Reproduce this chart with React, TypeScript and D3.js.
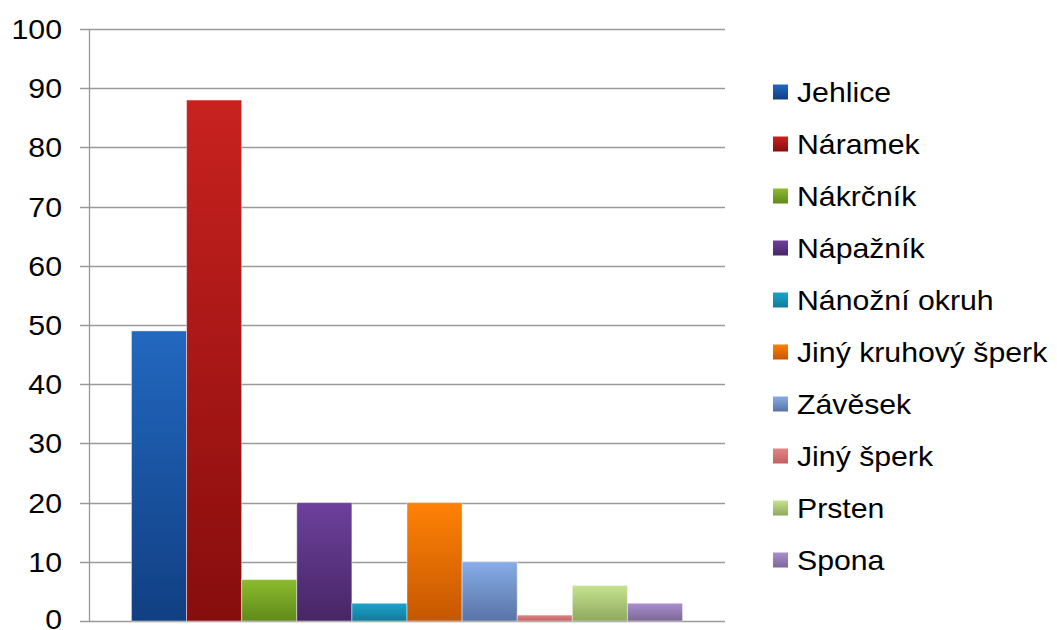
import React from "react";
import * as d3 from "d3";

const categories = [
  "Jehlice",
  "Náramek",
  "Nákrčník",
  "Nápažník",
  "Nánožní okruh",
  "Jiný kruhový šperk",
  "Závěsek",
  "Jiný šperk",
  "Prsten",
  "Spona",
];
const values = [49, 88, 7, 20, 3, 20, 10, 1, 6, 3];
const topColors = ["#2268c0", "#c8221f", "#8dbb2d", "#6d409c", "#1ba3cb", "#ff8206", "#88ace8", "#e38585", "#c6e48f", "#ab8fce"];
const bottomColors = ["#113f82", "#870d0d", "#5f8a1b", "#472665", "#107c98", "#c65700", "#5874a5", "#c26060", "#8ea85e", "#7c6897"];
const yTicks = [0, 10, 20, 30, 40, 50, 60, 70, 80, 90, 100];

const W = 1057;
const H = 630;
const plotLeft = 89;
const plotRight = 725;
const plotTop = 29;
const plotBottom = 621;
const SX = 1.08;
const FONT = "'Liberation Sans', Arial, sans-serif";

export default function App() {
  const x = d3
    .scaleBand<string>()
    .domain(categories)
    .range([plotLeft, plotRight])
    .paddingInner(0)
    .paddingOuter(0.77);
  const y = d3.scaleLinear().domain([0, 100]).range([plotBottom, plotTop]);

  return (
    <svg
      width={W}
      height={H}
      style={{ position: "absolute", left: 0, top: 0, background: "#fff" }}
      fontFamily={FONT}
    >
      <defs>
        {categories.map((c, i) => (
          <linearGradient key={c} id={`g${i}`} x1="0" y1="0" x2="0" y2="1">
            <stop offset="0%" stopColor={topColors[i]} />
            <stop offset="100%" stopColor={bottomColors[i]} />
          </linearGradient>
        ))}
      </defs>
      {/* gridlines */}
      {yTicks.map((t) => (
        <line
          key={`g${t}`}
          x1={plotLeft - 9}
          x2={plotRight}
          y1={Math.round(y(t)) + 0.5}
          y2={Math.round(y(t)) + 0.5}
          stroke="#9a9a9a"
          strokeWidth={1.3}
        />
      ))}
      {/* y axis line */}
      <line x1={plotLeft + 0.5} x2={plotLeft + 0.5} y1={plotTop} y2={plotBottom + 1} stroke="#9a9a9a" strokeWidth={1.3} />
      {/* y labels */}
      {yTicks.map((t) => (
        <text
          key={`l${t}`}
          transform={`translate(62,${Math.min(y(t) + 10, H - 1.5)}) scale(${SX},1)`}
          textAnchor="end"
          fontSize={28}
          fill="#000"
        >
          {t}
        </text>
      ))}
      {/* bars */}
      {categories.map((c, i) => (
        <rect
          key={c}
          x={x(c)!}
          y={y(values[i])}
          width={x.bandwidth()}
          height={y(0) - y(values[i])}
          fill={`url(#g${i})`}
          stroke="rgba(255,255,255,0.45)"
          strokeWidth={1}
        />
      ))}
      {/* legend */}
      {categories.map((c, i) => {
        const cy = 92 + i * 52;
        return (
          <g key={`lg${c}`}>
            <rect x={773} y={cy - 7.5} width={15} height={15} fill={`url(#g${i})`} />
            <text
              transform={`translate(797,${cy + 10}) scale(${SX},1)`}
              fontSize={28}
              fill="#000"
            >
              {c}
            </text>
          </g>
        );
      })}
    </svg>
  );
}
